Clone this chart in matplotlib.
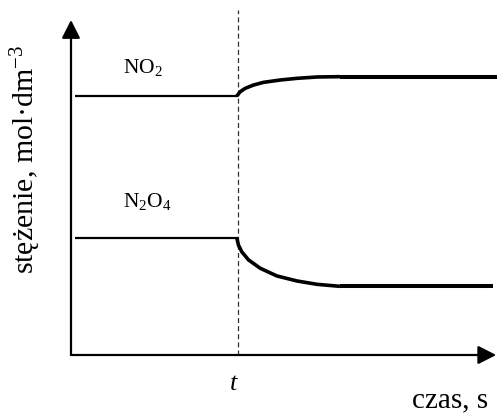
"""Stężenie NO2 i N2O4 w czasie - zaburzenie równowagi w chwili t."""
import matplotlib

matplotlib.use("Agg")
import matplotlib.pyplot as plt

plt.rcParams["font.family"] = ["Liberation Serif", "DejaVu Serif"]
plt.rcParams["mathtext.fontset"] = "custom"
plt.rcParams["mathtext.rm"] = "Liberation Serif"
plt.rcParams["mathtext.it"] = "Liberation Serif:italic"

# moment zaburzenia
T_EVENT = 4.0

# NO2: przed t, krzywa po t, stan ustalony
no2_pre_x = [0.1, 4.0]
no2_pre_y = [7.73, 7.73]
no2_curve_x = [3.97, 4.05, 4.17, 4.37, 4.61, 5.01, 5.41, 5.89, 6.44]
no2_curve_y = [7.73, 7.86, 7.96, 8.06, 8.14, 8.21, 8.26, 8.30, 8.31]
no2_post_x = [6.44, 10.2]
no2_post_y = [8.31, 8.31]

# N2O4
n2o4_pre_x = [0.1, 4.0]
n2o4_pre_y = [3.49, 3.49]
n2o4_curve_x = [3.97, 4.01, 4.09, 4.25, 4.53, 4.93, 5.41, 5.89, 6.44]
n2o4_curve_y = [3.49, 3.28, 3.08, 2.84, 2.59, 2.36, 2.21, 2.11, 2.05]
n2o4_post_x = [6.44, 10.11]
n2o4_post_y = [2.05, 2.05]

labels = ["NO$_2$", "N$_2$O$_4$"]
label_y = [8.42, 4.42]

fig = plt.figure(figsize=(4.97, 4.15), dpi=100)
ax = fig.add_axes([71 / 497, 60 / 415, 426 / 497, 345 / 415])
ax.set_xlim(0, 10.2)
ax.set_ylim(0, 10.3)
ax.axis("off")

# osie ze strzałkami
arrow = dict(arrowstyle="-|>,head_length=0.55,head_width=0.28", mutation_scale=20,
             lw=1.6, color="black", shrinkA=0, shrinkB=0)
ax.annotate("", xy=(0, 10.0), xytext=(0, 0), arrowprops=arrow, annotation_clip=False)
ax.annotate("", xy=(10.18, 0), xytext=(0, 0), arrowprops=arrow, annotation_clip=False)

ax.plot([T_EVENT, T_EVENT], [0, 10.3], ls=(0, (4, 2.5)), lw=0.9, color="#333333",
        clip_on=False)

ax.plot(no2_pre_x, no2_pre_y, color="black", lw=1.6, solid_capstyle="butt")
ax.plot(no2_curve_x, no2_curve_y, color="black", lw=2.6, solid_capstyle="butt",
        solid_joinstyle="round")
ax.plot(no2_post_x, no2_post_y, color="black", lw=2.9, solid_capstyle="butt",
        clip_on=False)
ax.plot(n2o4_pre_x, n2o4_pre_y, color="black", lw=1.6, solid_capstyle="butt")
ax.plot(n2o4_curve_x, n2o4_curve_y, color="black", lw=2.6, solid_capstyle="butt",
        solid_joinstyle="round")
ax.plot(n2o4_post_x, n2o4_post_y, color="black", lw=2.9, solid_capstyle="butt")

for lab, yy in zip(labels, label_y):
    ax.text(1.245, yy, lab, fontsize=15.5, ha="left", va="baseline")

ax.text(3.90, -1.04, "t", fontsize=19, style="italic", ha="center", va="baseline")
ax.text(9.99, -1.55, "czas, s", fontsize=21, ha="right", va="baseline")
ax.text(-1.08, 5.85, "stężenie, mol·dm$^{-3}$", fontsize=21.5, rotation=90,
        ha="center", va="center")

fig.savefig("out.png", dpi=100)
